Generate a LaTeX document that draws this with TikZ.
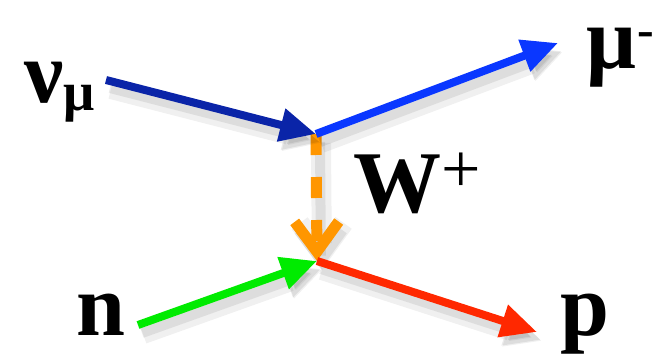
\documentclass[tikz,border=0pt]{standalone}
\usepackage{fontspec}
\setmainfont{Liberation Serif}
\usetikzlibrary{arrows.meta}
\definecolor{numublue}{RGB}{10,36,168}
\definecolor{mublue}{RGB}{10,55,255}
\definecolor{worange}{RGB}{255,150,0}
\definecolor{ngreen}{RGB}{0,235,0}
\definecolor{pred}{RGB}{255,40,0}
\tikzset{
  shadowed/.style={
      preaction={draw=black, opacity=0.06, line width=20pt,
        transform canvas={shift={(5pt,-9pt)}}},
      preaction={draw=black, opacity=0.08, line width=10pt,
        transform canvas={shift={(4pt,-8pt)}}}},
  particle/.style={line width=8pt, shadowed,
      -{Triangle[length=36pt,width=32pt]}},
  txt/.style={inner sep=0pt, anchor=base west,
      font=\fontsize{88}{90}\selectfont\bfseries}
}
\begin{document}
\begin{tikzpicture}[x=1pt,y=-1pt]
    \useasboundingbox (0,0) rectangle (665,356);

    % vertices and free ends
    \coordinate (top) at (316,134);
    \coordinate (bot) at (317,261);
    \coordinate (numuin) at (106,80);
    \coordinate (muout) at (558,43);
    \coordinate (nin) at (138,325);
    \coordinate (pout) at (537,332);

    % W boson
    \draw[worange, line width=11pt, shadowed, dash pattern=on 21pt off 22pt,
        -{Straight Barb[length=30pt,width=44pt]}] (top) -- (bot);

    % lepton line
    \draw[particle, numublue] (numuin) -- (top);
    \draw[particle, mublue] (top) -- (muout);

    % nucleon line
    \draw[particle, ngreen] (nin) -- (bot);
    \draw[particle, pred] (bot) -- (pout);

    % labels
    \node[txt] (numu) at (24,102) {ν\raisebox{-8pt}{\fontsize{55}{55}\selectfont μ}};
    \node[txt] (mu) at (586,68) {μ\kern1pt\raisebox{22pt}{\fontsize{50}{50}\selectfont -}};
    \node[txt] (W) at (353,212) {W\raisebox{20pt}{\fontsize{70}{70}\selectfont\mdseries +}};
    \node[txt] (n) at (76,335) {n};
    \node[txt] (p) at (560,335) {p};
\end{tikzpicture}
\end{document}
